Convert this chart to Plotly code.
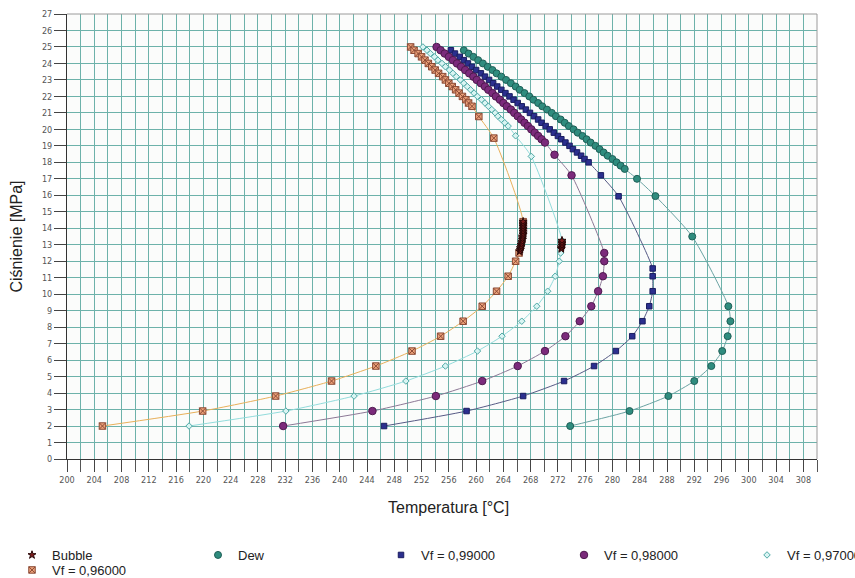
import plotly.graph_objects as go

# ---------------- data ----------------
dew_T = [258.2, 258.9, 259.6, 260.3, 261.0, 261.7, 262.4, 263.0, 263.7, 264.4, 265.1, 265.8,
         266.4, 267.1, 267.8, 268.4, 269.1, 269.7, 270.4, 271.1, 271.7, 272.4, 273.0, 273.6,
         274.3, 274.9, 275.6, 276.2, 276.8, 277.5, 278.1, 278.7, 279.3, 280.0, 280.6, 281.2,
         281.8, 283.6, 286.3, 291.7, 297.0, 297.3, 296.9, 296.1, 294.5, 292.0, 288.2, 282.5, 273.8]
dew_P = [24.8, 24.6, 24.4, 24.2, 24.0, 23.8, 23.6, 23.4, 23.2, 23.0, 22.8, 22.6, 22.4, 22.2,
         22.0, 21.8, 21.6, 21.4, 21.2, 21.0, 20.8, 20.6, 20.4, 20.2, 20.0, 19.8, 19.6, 19.4,
         19.2, 19.0, 18.8, 18.6, 18.4, 18.2, 18.0, 17.8, 17.6, 17.0, 15.95, 13.5, 9.27, 8.36,
         7.45, 6.55, 5.64, 4.73, 3.82, 2.91, 2.0]

vf99_T = [256.3, 256.9, 257.6, 258.2, 258.8, 259.4, 260.0, 260.7, 261.3, 261.9, 262.5, 263.1,
          263.7, 264.3, 264.9, 265.5, 266.1, 266.7, 267.3, 267.9, 268.5, 269.1, 269.6, 270.2,
          270.8, 271.4, 272.0, 272.5, 273.1, 273.7, 274.2, 274.8, 275.4, 275.9, 276.5,
          278.3, 280.9, 285.9, 285.9, 285.9, 285.4, 284.4, 282.9, 280.5, 277.3, 272.9, 266.9,
          258.6, 246.5]
vf99_P = [24.8, 24.6, 24.4, 24.2, 24.0, 23.8, 23.6, 23.4, 23.2, 23.0, 22.8, 22.6, 22.4, 22.2,
          22.0, 21.8, 21.6, 21.4, 21.2, 21.0, 20.8, 20.6, 20.4, 20.2, 20.0, 19.8, 19.6, 19.4,
          19.2, 19.0, 18.8, 18.6, 18.4, 18.2, 18.0,
          17.21, 15.94, 11.56, 11.09, 10.18, 9.27, 8.36, 7.45, 6.55, 5.64, 4.73, 3.82, 2.91, 2.0]

vf98_T = [254.2, 254.8, 255.4, 256.0, 256.6, 257.2, 257.8, 258.4, 259.0, 259.6, 260.1, 260.7,
          261.3, 261.8, 262.4, 262.9, 263.5, 264.0, 264.5, 265.1, 265.6, 266.1, 266.6, 267.1,
          267.6, 268.1, 268.6, 269.1, 269.6, 270.1,
          271.5, 274.0, 278.8, 278.8, 278.6, 277.9, 276.9, 275.2, 273.1, 270.1, 266.1, 260.9,
          254.1, 244.8, 231.7]
vf98_P = [25.0, 24.8, 24.6, 24.4, 24.2, 24.0, 23.8, 23.6, 23.4, 23.2, 23.0, 22.8, 22.6, 22.4,
          22.2, 22.0, 21.8, 21.6, 21.4, 21.2, 21.0, 20.8, 20.6, 20.4, 20.2, 20.0, 19.8, 19.6,
          19.4, 19.2,
          18.46, 17.21, 12.5, 12.0, 11.09, 10.18, 9.27, 8.36, 7.45, 6.55, 5.64, 4.73, 3.82, 2.91, 2.0]

vf97_T = [252.2, 252.8, 253.3, 253.9, 254.4, 255.0, 255.5, 256.1, 256.6, 257.1, 257.7, 258.2,
          258.7, 259.2, 259.7, 260.2, 260.8, 261.3, 261.8, 262.3, 262.8, 263.2, 263.7, 264.2,
          264.7, 265.8, 268.1, 272.6, 272.4, 272.2, 271.6, 270.5, 268.9, 266.7, 263.8, 260.2,
          255.5, 249.7, 242.1, 232.1, 217.9]
vf97_P = [25.0, 24.8, 24.6, 24.4, 24.2, 24.0, 23.8, 23.6, 23.4, 23.2, 23.0, 22.8, 22.6, 22.4,
          22.2, 22.0, 21.8, 21.6, 21.4, 21.2, 21.0, 20.8, 20.6, 20.4, 20.2, 19.61, 18.36, 13.25,
          12.5, 12.0, 11.09, 10.18, 9.27, 8.36, 7.45, 6.55, 5.64, 4.73, 3.82, 2.91, 2.0]

vf96_T = [250.4, 250.9, 251.5, 252.0, 252.5, 253.0, 253.5, 254.0, 254.5, 255.1, 255.5, 256.0,
          256.5, 257.0, 257.5, 258.0, 258.5, 258.9, 259.4, 260.4, 262.6, 266.9, 266.3, 265.8,
          264.7, 263.0, 260.9, 258.1, 254.8, 250.6, 245.3, 238.8, 230.6, 219.9, 205.2]
vf96_P = [25.0, 24.8, 24.6, 24.4, 24.2, 24.0, 23.8, 23.6, 23.4, 23.2, 23.0, 22.8, 22.6, 22.4,
          22.2, 22.0, 21.8, 21.6, 21.4, 20.78, 19.47, 14.4, 12.5, 12.0, 11.09, 10.18, 9.27,
          8.36, 7.45, 6.55, 5.64, 4.73, 3.82, 2.91, 2.0]

bubble_T = [266.4, 266.5, 266.5, 266.6, 266.6, 266.7, 266.7, 266.8, 266.8, 266.8, 266.9, 266.9,
            266.9, 266.9, 266.9, 266.9, 266.9, 266.9, 266.9,
            272.5, 272.5, 272.6, 272.6, 272.6, 272.6]
bubble_P = [12.6, 12.7, 12.8, 12.9, 13.0, 13.1, 13.2, 13.3, 13.4, 13.5, 13.6, 13.7, 13.8, 13.9,
            14.0, 14.1, 14.2, 14.3, 14.4,
            12.75, 12.85, 12.95, 13.05, 13.15, 13.25]

names = ["Bubble", "Dew", "Vf = 0,99000", "Vf = 0,98000", "Vf = 0,97000", "Vf = 0,96000"]
x_ticks = list(range(200, 309, 4))
y_ticks = list(range(0, 28, 1))
x_title = "Temperatura [°C]"
y_title = "Ciśnienie [MPa]"

# ---------------- figure ----------------
fig = go.Figure()

styles = {
    "Dew": dict(T=dew_T, P=dew_P, line="#6aa3a3", symbol="circle", size=7,
                fill="#2f8c7e", edge="#1f5f57", legend="legend2"),
    "Vf = 0,99000": dict(T=vf99_T, P=vf99_P, line="#565a85", symbol="square", size=5.5,
                         fill="#2b2f8e", edge="#1a1d60", legend="legend3"),
    "Vf = 0,98000": dict(T=vf98_T, P=vf98_P, line="#8c7896", symbol="circle", size=7.5,
                         fill="#7b2a7b", edge="#4f1a4f", legend="legend4"),
    "Vf = 0,97000": dict(T=vf97_T, P=vf97_P, line="#92dcdc", symbol="diamond", size=5,
                         fill="#d9f5f3", edge="#4fa9a6", legend="legend5"),
    "Vf = 0,96000": dict(T=vf96_T, P=vf96_P, line="#e8b05a", symbol="square-x", size=6.5,
                         fill="#eda27a", edge="#8b4a35", legend="legend6"),
}

line_order = ["Dew", "Vf = 0,99000", "Vf = 0,98000", "Vf = 0,97000", "Vf = 0,96000"]
for nm in line_order:
    s = styles[nm]
    fig.add_trace(go.Scatter(x=s["T"], y=s["P"], mode="lines", showlegend=False,
                             line=dict(color=s["line"], width=1, shape="spline", smoothing=0.6),
                             hoverinfo="skip"))

for nm in line_order:
    s = styles[nm]
    fig.add_trace(go.Scatter(x=s["T"], y=s["P"], mode="markers", name=nm,
                             legend=s["legend"],
                             marker=dict(symbol=s["symbol"], size=s["size"], color=s["fill"],
                                         line=dict(color=s["edge"], width=1))))

fig.add_trace(go.Scatter(x=bubble_T, y=bubble_P, mode="markers", name=names[0],
                         legend="legend",
                         marker=dict(symbol="star", size=6, color="#7a1c1c",
                                     line=dict(color="#2a0808", width=1))))

W, H = 855, 578
legend_font = dict(family="Liberation Sans, Arial, sans-serif", size=13, color="#222222")


def leg(px, py):
    return dict(xref="container", yref="container", x=px / W, y=1 - py / H,
                xanchor="left", yanchor="middle", orientation="v",
                bgcolor="rgba(0,0,0,0)", font=legend_font, itemwidth=30)


tickfont = dict(family="Liberation Sans Narrow, Arial Narrow, DejaVu Sans Condensed, sans-serif",
                size=9, color="#555555")
grid = "#6db2aa"
title_font = dict(family="Liberation Sans, Arial, sans-serif", size=16, color="#222222")

fig.update_layout(
    width=W, height=H,
    margin=dict(l=67, r=38, t=14, b=119, autoexpand=False),
    paper_bgcolor="white",
    plot_bgcolor="#fbfcfb",
    legend=leg(12, 555),
    legend2=leg(198, 555),
    legend3=leg(381, 555),
    legend4=leg(564, 555),
    legend5=leg(747, 555),
    legend6=leg(12, 570),
    xaxis=dict(range=[200, 310], tickmode="array", tickvals=x_ticks,
               ticktext=[str(v) for v in x_ticks],
               ticks="outside", ticklen=12, tickcolor="#444444", tickwidth=1,
               showgrid=True, gridcolor=grid, gridwidth=1,
               minor=dict(dtick=2, tick0=200, ticks="outside", ticklen=12,
                          tickcolor="#555555", showgrid=True, gridcolor=grid, gridwidth=1),
               showline=True, linecolor="#333333", linewidth=1, zeroline=False,
               tickfont=tickfont),
    yaxis=dict(range=[0, 27], tickmode="array", tickvals=y_ticks,
               ticktext=[str(v) for v in y_ticks],
               ticks="outside", ticklen=12, tickcolor="#444444", tickwidth=1,
               showgrid=True, gridcolor=grid, gridwidth=1,
               showline=True, linecolor="#333333", linewidth=1, zeroline=False,
               tickfont=tickfont),
    annotations=[
        dict(text=x_title, xref="paper", yref="paper", x=0.508, y=-0.109,
             xanchor="center", yanchor="middle", showarrow=False, font=title_font),
        dict(text=y_title, xref="paper", yref="paper", x=-0.068, y=0.5, textangle=-90,
             xanchor="center", yanchor="middle", showarrow=False, font=title_font),
    ],
    shapes=[
        dict(type="line", xref="paper", yref="paper", x0=0, x1=1, y0=1, y1=1,
             line=dict(color="#9a9a9a", width=1)),
        dict(type="line", xref="paper", yref="paper", x0=1, x1=1, y0=0, y1=1,
             line=dict(color="#9a9a9a", width=1)),
    ],
)

fig.write_html("out.html", config={"displayModeBar": False},
               post_script="document.body.style.margin='0';")
